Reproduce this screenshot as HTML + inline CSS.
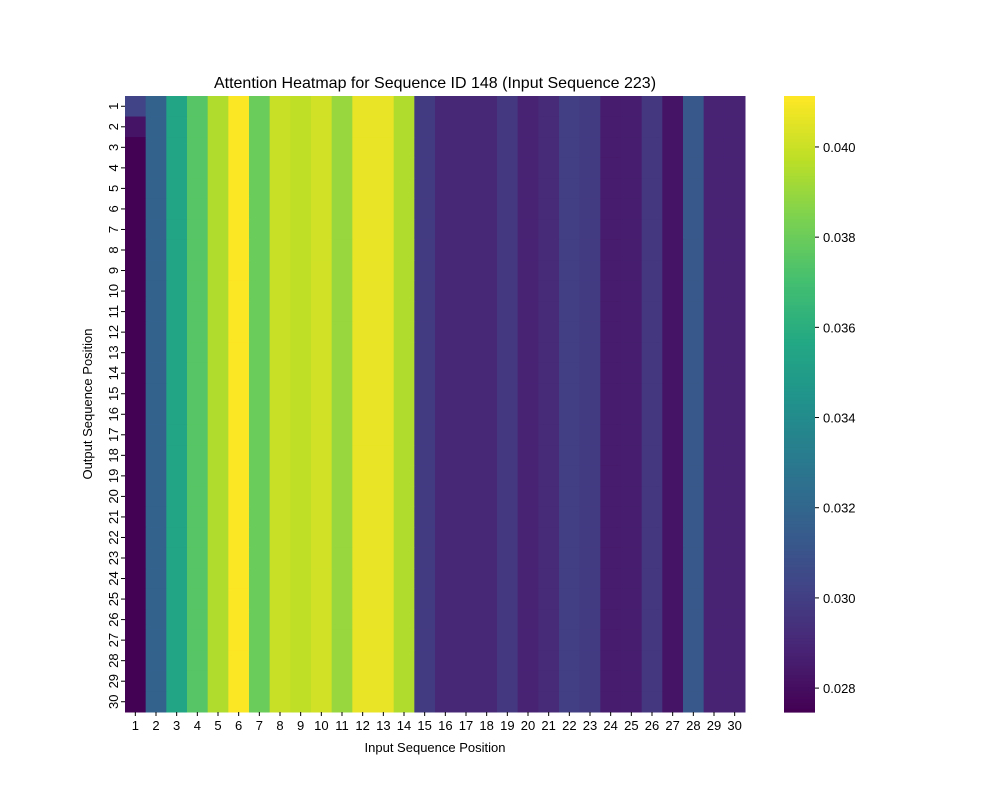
<!DOCTYPE html>
<html><head><meta charset="utf-8"><style>
body{margin:0;background:#fff;font-family:"Liberation Sans",sans-serif;}
</style></head><body>
<svg id="chart" width="1000" height="800" xmlns="http://www.w3.org/2000/svg" font-family="Liberation Sans, sans-serif">
<text x="435" y="88" font-size="16" text-anchor="middle">Attention Heatmap for Sequence ID 148 (Input Sequence 223)</text>
<g id="cells"></g><g id="xt"></g><g id="yt"></g><g id="cb"></g>
<text x="435" y="752" font-size="13" text-anchor="middle">Input Sequence Position</text>
<text x="0" y="0" font-size="13" text-anchor="middle" transform="translate(92,404) rotate(-90)">Output Sequence Position</text>
</svg>
<script>
const colValues=[0.0275,0.0318,0.0355,0.0375,0.0395,0.0411,0.0380,0.0400,0.0398,0.0402,0.0390,0.0407,0.0407,0.0395,0.0298,0.0290,0.0290,0.0290,0.0297,0.0288,0.0291,0.0300,0.0298,0.0285,0.0286,0.0296,0.0282,0.0312,0.0288,0.0288];
const firstColByRow=[0.0302,0.0282,0.0275,0.0275,0.0275,0.0275,0.0275,0.0275,0.0275,0.0275,0.0275,0.0275,0.0275,0.0275,0.0275,0.0275,0.0275,0.0275,0.0275,0.0275,0.0275,0.0275,0.0275,0.0275,0.0275,0.0275,0.0275,0.0275,0.0275,0.0275];
const cbTicks=[0.028,0.030,0.032,0.034,0.036,0.038,0.040];
const vmin=0.02747,vmax=0.04113;
const VIR=["#440154","#482475","#414487","#355f8d","#2a788e","#21918c","#22a884","#44bf70","#7ad151","#bddf26","#fde725"];
function hx(h){return [1,3,5].map(i=>parseInt(h.substr(i,2),16));}
function vir(t){t=Math.max(0,Math.min(1,t));const p=t*10,i=Math.min(9,Math.floor(p)),f=p-i;const a=hx(VIR[i]),b=hx(VIR[i+1]);return "rgb("+a.map((v,k)=>Math.round(v+(b[k]-v)*f)).join(",")+")";}
const X0=125,X1=745,Y0=96,Y1=712,N=30,cw=(X1-X0)/N,ch=(Y1-Y0)/N;
const xs=i=>X0+i*cw, ys=j=>Y0+j*ch;
const NS="http://www.w3.org/2000/svg";
function mk(t,a,p){const e=document.createElementNS(NS,t);for(const k in a)e.setAttribute(k,a[k]);p.appendChild(e);return e;}
const cells=document.getElementById('cells');
for(let r=0;r<N;r++)for(let c=0;c<N;c++){
 const v=c===0?firstColByRow[r]:colValues[c];
 const e=mk('rect',{x:xs(c),y:ys(r),width:cw+0.5,height:ch+0.5,fill:vir((v-vmin)/(vmax-vmin))},cells);
 
 
}
const xt=document.getElementById('xt'),yt=document.getElementById('yt');
for(let i=0;i<N;i++){
 const cx=xs(i)+cw/2;
 mk('line',{x1:cx,x2:cx,y1:Y1,y2:Y1+4,stroke:'#000'},xt);
 const t=mk('text',{x:cx,y:Y1+18,'font-size':13,'text-anchor':'middle'},xt);t.textContent=i+1;
 
 
 const cy=ys(i)+ch/2;
 mk('line',{x1:X0-4,x2:X0,y1:cy,y2:cy,stroke:'#000'},yt);
 const u=mk('text',{x:0,y:0,'font-size':13,'text-anchor':'middle',transform:`translate(${X0-7},${cy}) rotate(-90)`},yt);u.textContent=i+1;
 
 
}
const cb=document.getElementById('cb');const CX0=784,CX1=815;
for(let k=0;k<200;k++){const y=Y0+k*(Y1-Y0)/200;mk('rect',{x:CX0,y:y,width:CX1-CX0,height:(Y1-Y0)/200+0.6,fill:vir(1-k/199)},cb);}
const cyv=v=>Y1-(v-vmin)/(vmax-vmin)*(Y1-Y0);
cbTicks.forEach(v=>{const y=cyv(v);mk('line',{x1:CX1,x2:CX1+4,y1:y,y2:y,stroke:'#000'},cb);
 const t=mk('text',{x:CX1+8,y:y+5,'font-size':13},cb);t.textContent=v.toFixed(3);
 
 });
</script>
</body></html>
